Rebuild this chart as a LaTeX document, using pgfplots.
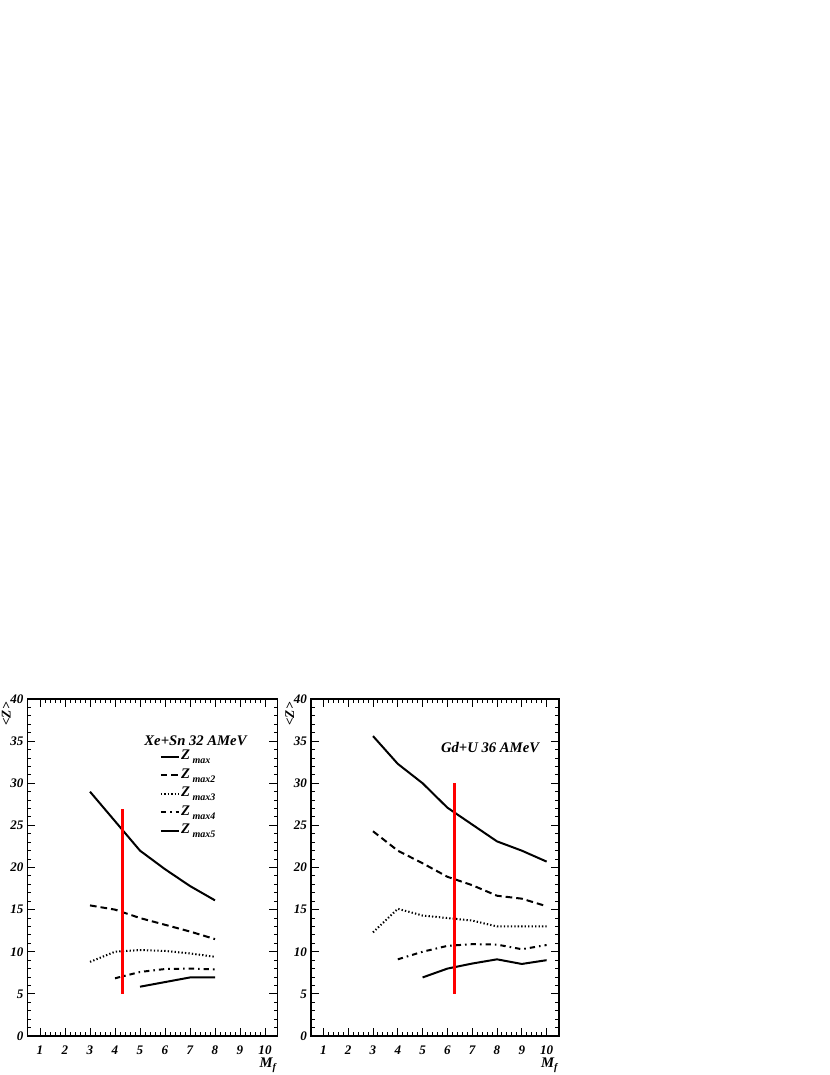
\documentclass[border=0pt]{standalone}
\usepackage{fontspec}
\setmainfont{Liberation Serif}
\usepackage{pgfplots}
\pgfplotsset{compat=1.18}
\newcommand{\Zs}[1]{Z\,\raisebox{-3.2pt}{\fontsize{7.5}{8}\selectfont #1}}
\pgfplotsset{
  rootstyle/.style={
    scale only axis,
    anchor=south west,
    height=252.75pt,
    xmin=0.5, xmax=10.5, ymin=0, ymax=40,
    xtick={1,2,3,4,5,6,7,8,9,10},
    ytick={0,5,10,15,20,25,30,35,40},
    minor x tick num=4, minor y tick num=4,
    tick align=inside,
    major tick length=6pt, minor tick length=3pt,
    every tick/.style={black, line width=0.7pt},
    axis line style={line width=1.1pt},
    /pgf/number format/assume math mode=true,
    tick label style={font=\bfseries\itshape\fontsize{9.8}{10}\selectfont},
    yticklabel style={xshift=0.5pt},
    xticklabel style={yshift=-4pt},
    clip=false,
    every axis plot/.append style={black, line width=1.5pt},
  },
  s1/.style={solid},
  s2/.style={dash pattern=on 5pt off 3pt},
  s3/.style={dash pattern=on 1pt off 1.6pt},
  s4/.style={dash pattern=on 4pt off 3pt on 1.2pt off 3pt},
}
\begin{document}
\begin{tikzpicture}
\path[use as bounding box] (0,0) rectangle (622.5pt,806.25pt);
% ---------------- left panel
\begin{axis}[rootstyle, at={(20.625pt,29.25pt)}, width=187.5pt,
  legend style={at={(axis cs:5.62,34.6)}, anchor=north west, draw=none, fill=none,
    font=\bfseries\itshape\fontsize{11}{12}\selectfont,
    nodes={inner sep=0.6pt, text height=8.5pt, text depth=4.2pt},
    legend cell align=left},
  legend image code/.code={\draw[#1] (0pt,0pt) -- (14pt,0pt);},
]
\addplot[s1] coordinates {(3,29.0) (4,25.5) (5,22.0) (6,19.8) (7,17.8) (8,16.1)};
\addlegendentry{\Zs{max}}
\addplot[s2] coordinates {(3,15.5) (4,15.0) (5,14.0) (6,13.2) (7,12.4) (8,11.5)};
\addlegendentry{\Zs{max2}}
\addplot[s3] coordinates {(3,8.8) (4,10.0) (5,10.2) (6,10.1) (7,9.8) (8,9.4)};
\addlegendentry{\Zs{max3}}
\addplot[s4] coordinates {(4,6.85) (5,7.6) (6,7.95) (7,8.0) (8,7.9)};
\addlegendentry{\Zs{max4}}
\addplot[s1] coordinates {(5,5.85) (6,6.4) (7,6.95) (8,6.95)};
\addlegendentry{\Zs{max5}}
\addplot[red, line width=1.9pt, forget plot] coordinates {(4.31,5) (4.31,27)};
\node[font=\bfseries\itshape\fontsize{11}{12}\selectfont] at (axis cs:7.22,35.1) {Xe+Sn 32 AMeV};
\node[rotate=90, anchor=east, font=\bfseries\itshape\fontsize{10}{10}\selectfont] at ([xshift=-16pt,yshift=1pt]rel axis cs:0,1) {<Z>};
\node[anchor=north east, inner sep=1pt, font=\bfseries\itshape\fontsize{11}{12}\selectfont] at ([yshift=-15pt]rel axis cs:1,0) {M\raisebox{-2.5pt}{\fontsize{7.5}{8}\selectfont f}};
\end{axis}
% ---------------- right panel
\begin{axis}[rootstyle, at={(233.25pt,29.25pt)}, width=186pt]
\addplot[s1] coordinates {(3,35.6) (4,32.3) (5,30.0) (6,27.1) (7,25.1) (8,23.1) (9,22.0) (10,20.7)};
\addplot[s2] coordinates {(3,24.3) (4,22.0) (5,20.5) (6,18.9) (7,17.9) (8,16.65) (9,16.3) (10,15.4)};
\addplot[s3] coordinates {(3,12.3) (4,15.1) (5,14.3) (6,14.0) (7,13.7) (8,13.0) (9,13.0) (10,13.0)};
\addplot[s4] coordinates {(4,9.1) (5,10.0) (6,10.7) (7,10.9) (8,10.85) (9,10.3) (10,10.8)};
\addplot[s1] coordinates {(5,6.95) (6,8.0) (7,8.6) (8,9.1) (9,8.55) (10,9.0)};
\addplot[red, line width=1.9pt] coordinates {(6.28,5) (6.28,30)};
\node[font=\bfseries\itshape\fontsize{11}{12}\selectfont] at (axis cs:7.72,34.2) {Gd+U 36 AMeV};
\node[rotate=90, anchor=east, font=\bfseries\itshape\fontsize{10}{10}\selectfont] at ([xshift=-16pt,yshift=1pt]rel axis cs:0,1) {<Z>};
\node[anchor=north east, inner sep=1pt, font=\bfseries\itshape\fontsize{11}{12}\selectfont] at ([yshift=-15pt]rel axis cs:1,0) {M\raisebox{-2.5pt}{\fontsize{7.5}{8}\selectfont f}};
\end{axis}
\end{tikzpicture}
\end{document}
